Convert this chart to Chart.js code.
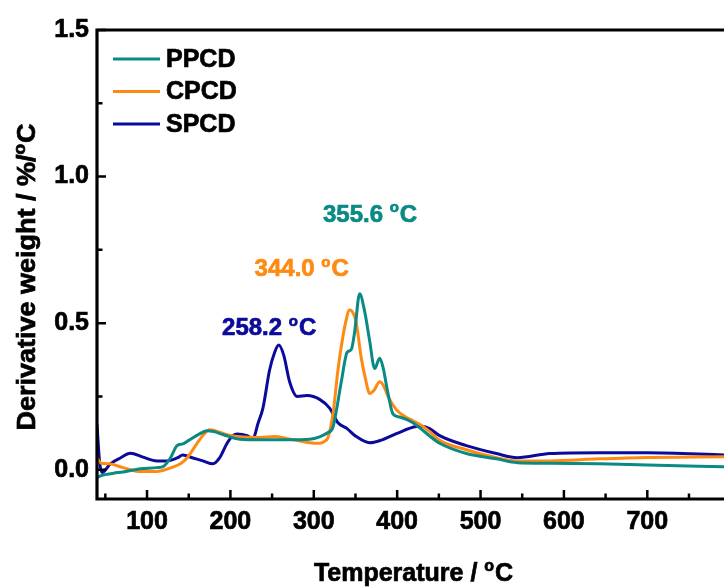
<!DOCTYPE html>
<html><head><meta charset="utf-8">
<script src="https://cdn.jsdelivr.net/npm/chart.js@4.4.1/dist/chart.umd.min.js"></script>
<style>html,body{margin:0;padding:0;background:#fff;overflow:hidden}#wrap{width:724px;height:588px}</style>
</head><body><div id="wrap"><canvas id="c" width="724" height="588"></canvas></div>
<script>
// ---- data (temperature °C, derivative weight %/°C) ----
const ppcdT = [40,45,60,71,92,112,120,128,136,143,150,163,172,180,191,211,235,268,295,307,316,323,327,333,340,345,349,355,361,367,373,379,383,389,395,403,419,427,439,451,483,519,544,583,642,700,792];
const ppcdY = [-0.027,-0.02,-0.012,-0.008,0.003,0.007,0.012,0.04,0.082,0.088,0.1,0.122,0.133,0.13,0.12,0.104,0.102,0.102,0.104,0.112,0.125,0.145,0.2,0.30,0.40,0.41,0.47,0.60,0.54,0.44,0.345,0.38,0.35,0.26,0.19,0.18,0.16,0.143,0.115,0.09,0.055,0.037,0.024,0.022,0.02,0.016,0.01];
const cpcdT = [40,45,55,71,92,112,128,140,148,160,168,175,185,195,211,235,253,268,285,295,307,313,317,323,329,333,338,343,348,351,357,362,367,372,379,384,389,399,410,419,427,439,451,483,519,544,583,642,700,792];
const cpcdY = [0.04,0.022,0.02,0.007,-0.006,-0.006,0.006,0.02,0.04,0.09,0.12,0.136,0.13,0.12,0.112,0.11,0.113,0.106,0.097,0.092,0.09,0.097,0.11,0.19,0.34,0.42,0.5,0.545,0.53,0.50,0.38,0.31,0.26,0.27,0.30,0.285,0.25,0.205,0.18,0.167,0.155,0.13,0.10,0.068,0.041,0.03,0.03,0.037,0.042,0.044];
const spcdT = [40,43,46,56,68,80,95,112,124,136,143,155,167,179,187,196,203,208,220,227,233,239,247,253,258,264,271,280,292,307,319,329,340,350,367,380,399,423,430,439,451,483,519,544,583,642,700,792];
const spcdY = [0.155,0.03,-0.01,0.02,0.04,0.056,0.043,0.03,0.03,0.04,0.05,0.04,0.03,0.02,0.04,0.09,0.116,0.122,0.116,0.105,0.157,0.21,0.34,0.40,0.425,0.39,0.30,0.25,0.253,0.24,0.21,0.16,0.14,0.115,0.092,0.1,0.123,0.147,0.148,0.14,0.116,0.082,0.055,0.041,0.055,0.058,0.058,0.05];

const seriesNames = ['PPCD','CPCD','SPCD'];
const seriesColors = ['#0a8a84','#ff8a12','#0b0b9b'];

const xTickValues = [100,200,300,400,500,600,700];
const xMinorValues = [50,150,250,350,450,550,650,750];
const yTickValues = [0,0.5,1.0,1.5];
const yMinorValues = [0.25,0.75,1.25];

const peakTexts = ['355.6','344.0','258.2'];
const peakSeries = [0,1,2];
const peakAnchorT = [311,229,190];
const peakAnchorY = [0.877,0.69,0.49];

const xTitle = 'Temperature / ';
const yTitle = 'Derivative weight / %/';

const FONT = '"Liberation Sans", Arial, Helvetica, sans-serif';
const STROKE = 0.7;

function toPts(T, Y){ return T.map((t,i)=>({x:t,y:Y[i]})); }

function txt(ctx, s, x, y){
  ctx.lineWidth = STROKE;
  ctx.strokeStyle = ctx.fillStyle;
  ctx.strokeText(s, x, y);
  ctx.fillText(s, x, y);
}

// draws pre + superscript 'o' + 'C', baseline at y
function drawDeg(ctx, pre, x, y, size, align){
  const small = Math.round(size*0.64);
  ctx.font = 'bold '+size+'px '+FONT;
  const w1 = ctx.measureText(pre).width;
  const wC = ctx.measureText('C').width;
  ctx.font = 'bold '+small+'px '+FONT;
  const wo = ctx.measureText('o').width;
  const total = w1 + wo + 1 + wC;
  const x0 = align === 'center' ? x - total/2 : x;
  ctx.textAlign = 'left';
  ctx.textBaseline = 'alphabetic';
  ctx.font = 'bold '+size+'px '+FONT;
  txt(ctx, pre, x0, y);
  ctx.font = 'bold '+small+'px '+FONT;
  txt(ctx, 'o', x0 + w1, y - 0.716*size + 0.52*small);
  ctx.font = 'bold '+size+'px '+FONT;
  txt(ctx, 'C', x0 + w1 + wo + 1, y);
}

const framePlugin = {
  id: 'frame',
  afterDatasetsDraw(chart){
    const ctx = chart.ctx, a = chart.chartArea;
    const xs = chart.scales.x, ys = chart.scales.y;
    ctx.save();
    ctx.strokeStyle = '#000';
    ctx.lineWidth = 2.5;
    ctx.beginPath();
    xTickValues.forEach(v=>{const p=xs.getPixelForValue(v); ctx.moveTo(p,a.bottom); ctx.lineTo(p,a.bottom-9);});
    xMinorValues.forEach(v=>{const p=xs.getPixelForValue(v); if(p<a.right){ctx.moveTo(p,a.bottom); ctx.lineTo(p,a.bottom-5.5);}});
    yTickValues.forEach(v=>{const p=ys.getPixelForValue(v); ctx.moveTo(a.left,p); ctx.lineTo(a.left+9,p);});
    yMinorValues.forEach(v=>{const p=ys.getPixelForValue(v); ctx.moveTo(a.left,p); ctx.lineTo(a.left+5.5,p);});
    ctx.stroke();
    ctx.lineWidth = 3.2;
    ctx.lineJoin = 'miter';
    ctx.beginPath();
    ctx.moveTo(a.right+2, a.top); ctx.lineTo(a.left, a.top); ctx.lineTo(a.left, a.bottom); ctx.lineTo(a.right+2, a.bottom);
    ctx.stroke();

    // legend
    const lx = a.left + 16, ly = a.top + 29, step = 32.5;
    seriesNames.forEach((n,i)=>{
      const y = ly + i*step;
      ctx.strokeStyle = seriesColors[i];
      ctx.lineWidth = 3;
      ctx.beginPath(); ctx.moveTo(lx, y); ctx.lineTo(lx+47, y); ctx.stroke();
      ctx.fillStyle = '#000';
      ctx.font = 'bold 25px '+FONT;
      ctx.textAlign = 'left'; ctx.textBaseline = 'middle';
      txt(ctx, n, lx+53, y+1);
    });

    // peak labels
    peakTexts.forEach((t,i)=>{
      ctx.fillStyle = seriesColors[peakSeries[i]];
      const px = xs.getPixelForValue(peakAnchorT[i]);
      const py = ys.getPixelForValue(peakAnchorY[i]);
      drawDeg(ctx, t + ' ', px, py + 9, 24, 'left');
    });

    // axis titles
    ctx.fillStyle = '#000';
    drawDeg(ctx, xTitle, (a.left + a.right)/2 + 3, 581, 25, 'center');
    ctx.save();
    ctx.translate(35, 277);
    ctx.rotate(-Math.PI/2);
    ctx.scale(1.08, 1);
    drawDeg(ctx, yTitle, 0, 0, 25, 'center');
    ctx.restore();
    ctx.restore();
  }
};

const tickFont = {family: FONT, size: 25, weight: 'bold'};

new Chart(document.getElementById('c'), {
  type: 'line',
  data: {
    datasets: [
      {label: seriesNames[0], data: toPts(ppcdT, ppcdY), borderColor: seriesColors[0]},
      {label: seriesNames[1], data: toPts(cpcdT, cpcdY), borderColor: seriesColors[1]},
      {label: seriesNames[2], data: toPts(spcdT, spcdY), borderColor: seriesColors[2]}
    ].map(d=>Object.assign(d,{borderWidth:3, pointRadius:0, fill:false, cubicInterpolationMode:'monotone'}))
  },
  options: {
    responsive: false,
    animation: false,
    devicePixelRatio: 1,
    layout: {padding: {top: 30, left: 0, right: 0, bottom: 0}},
    plugins: {legend: {display: false}, tooltip: {enabled: false}},
    scales: {
      x: {
        type: 'linear', min: 40, max: 792,
        grid: {display: false, drawTicks: false},
        border: {display: false},
        afterBuildTicks: s => { s.ticks = xTickValues.map(v=>({value:v})); },
        afterFit: s => { s.height = 89; },
        ticks: {font: tickFont, color: '#000', textStrokeColor: '#000', textStrokeWidth: STROKE, padding: 8, maxRotation: 0, autoSkip: false, callback: v => String(v)}
      },
      y: {
        type: 'linear', min: -0.1, max: 1.5,
        grid: {display: false, drawTicks: false},
        border: {display: false},
        afterBuildTicks: s => { s.ticks = yTickValues.map(v=>({value:v})); },
        afterFit: s => { s.width = 97; },
        ticks: {font: tickFont, color: '#000', textStrokeColor: '#000', textStrokeWidth: STROKE, padding: 8, autoSkip: false, callback: v => Number(v).toFixed(1)}
      }
    }
  },
  plugins: [framePlugin]
});
</script>
</body></html>
